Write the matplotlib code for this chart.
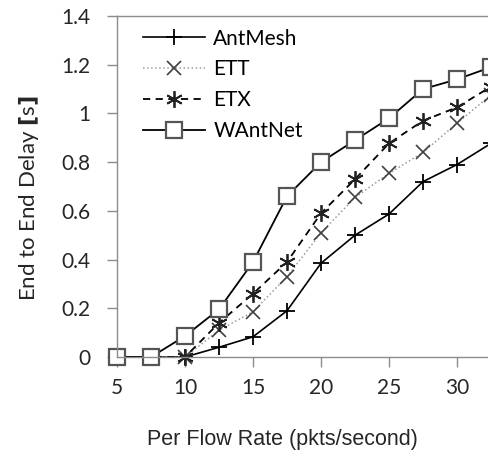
import matplotlib
matplotlib.use("Agg")
import matplotlib.pyplot as plt

# Data
rate = [5, 7.5, 10, 12.5, 15, 17.5, 20, 22.5, 25, 27.5, 30, 32.5]
antmesh = [0, 0, 0, 0.04, 0.083, 0.19, 0.385, 0.50, 0.587, 0.72, 0.79, 0.877]
ett = [0, 0, 0, 0.11, 0.186, 0.33, 0.51, 0.655, 0.754, 0.84, 0.96, 1.076]
etx = [0, 0, 0, 0.14, 0.26, 0.39, 0.59, 0.73, 0.877, 0.97, 1.025, 1.11]
wantnet = [0, 0, 0.086, 0.196, 0.39, 0.66, 0.80, 0.89, 0.98, 1.10, 1.14, 1.19]

x_ticks = [5, 10, 15, 20, 25, 30]
y_ticks = [0, 0.2, 0.4, 0.6, 0.8, 1.0, 1.2, 1.4]
y_tick_labels = ["0", "0.2", "0.4", "0.6", "0.8", "1", "1.2", "1.4"]

plt.rcParams["font.family"] = ["Lato", "DejaVu Sans"]
TXT = "#262626"

fig = plt.figure(figsize=(4.88, 4.51), dpi=100)
ax = fig.add_axes([0.2398, 0.2084, 0.7602, 0.7561])

ax.plot(rate, antmesh, color="black", lw=1.2, marker="+", ms=12, mew=1.3,
        label="AntMesh", clip_on=False)
ax.plot(rate, ett, color="#9a9a9a", lw=1.1, ls=":", marker="x", ms=10,
        mew=1.2, mec="#404040", label="ETT", clip_on=False)
ax.plot(rate, etx, color="black", lw=1.3, ls=(0, (4, 3)), marker=(6, 2, 0),
        ms=12, mew=1.3, mec="#222222", label="ETX", clip_on=False)
ax.plot(rate, wantnet, color="black", lw=1.3, marker="s", ms=11, mew=1.6,
        mfc="white", mec="#555555", label="WAntNet", clip_on=False)

ax.set_xlim(5, 32.28)
ax.set_ylim(0, 1.4)
ax.set_xticks(x_ticks)
ax.set_yticks(y_ticks)
ax.set_yticklabels(y_tick_labels)

for side in ["left", "bottom", "top"]:
    ax.spines[side].set_color("#8c8c8c")
    ax.spines[side].set_linewidth(1.0)
ax.spines["right"].set_visible(False)

ax.tick_params(axis="y", direction="out", length=7, width=1, color="#8c8c8c",
               labelsize=15, pad=12, labelcolor=TXT)
ax.tick_params(axis="x", direction="out", length=7, width=1, color="#8c8c8c",
               labelsize=15, pad=8, labelcolor=TXT)

ax.set_xlabel("Per Flow Rate (pkts/second)", fontsize=15.5, color=TXT,
              family=["Liberation Sans", "DejaVu Sans"])
ax.xaxis.set_label_coords(0.445, -0.21)
ax.set_ylabel("End to End Delay $\\mathbf{[}$s$\\mathbf{]}$", fontsize=16,
              color=TXT)
ax.yaxis.set_label_coords(-0.205, 0.465)

leg = ax.legend(loc="upper left", frameon=False, fontsize=15,
                handlelength=3.0, handletextpad=0.4, labelspacing=0.52,
                borderaxespad=0.2, bbox_to_anchor=(0.035, 1.0))

fig.savefig("out.png", dpi=100)
